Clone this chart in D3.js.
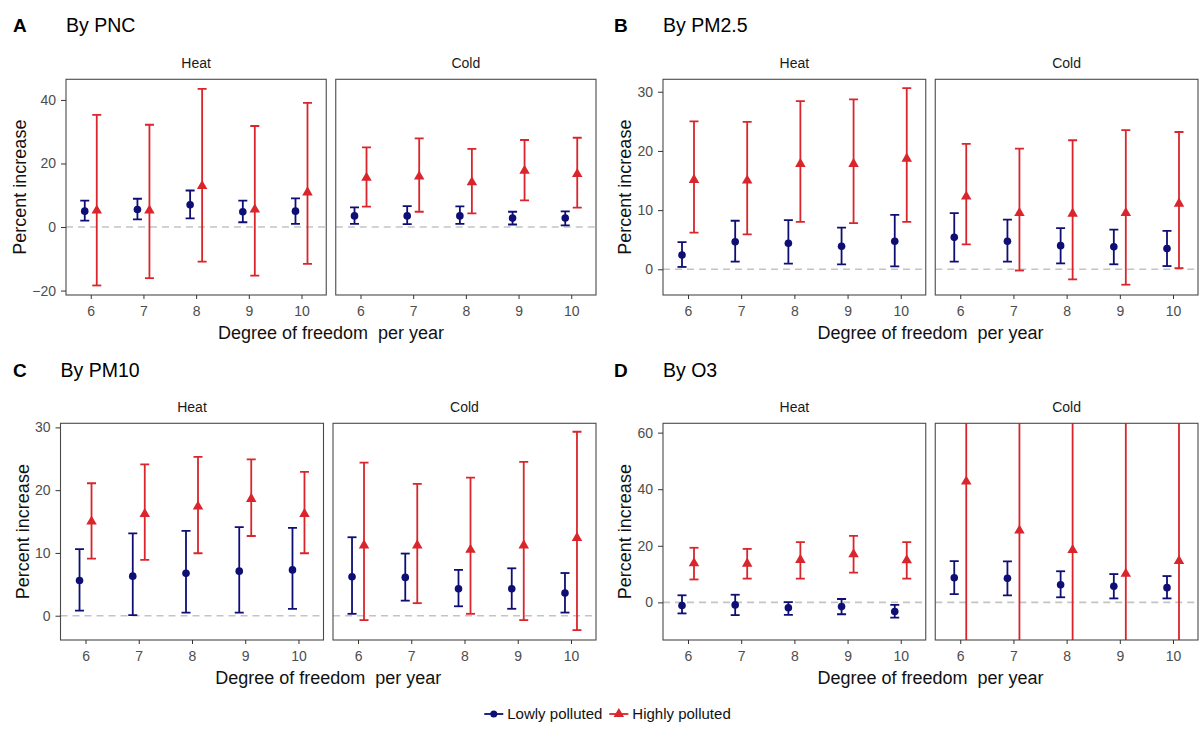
<!DOCTYPE html>
<html>
<head>
<meta charset="utf-8">
<script src="https://cdn.jsdelivr.net/npm/d3@7"></script>
<style>
  body { margin: 0; background: #fff; }
  text { font-family: "Liberation Sans", Arial, sans-serif; }
</style>
</head>
<body>
<svg id="chart" width="1200" height="731"></svg>
<script>
// ---- data: [estimate, lower, upper] per degree of freedom
var dfs = [6, 7, 8, 9, 10];
var facets = ["Heat", "Cold"];

var pncHeatLow  = [[5.0, 2.0, 8.3], [5.5, 2.4, 8.9], [7.0, 2.7, 11.5], [4.8, 1.5, 8.3], [5.0, 1.0, 9.0]];
var pncHeatHigh = [[5.2, -18.4, 35.3], [5.2, -16.1, 32.2], [12.9, -10.9, 43.5], [5.5, -15.3, 31.8], [10.9, -11.6, 39.1]];
var pncColdLow  = [[3.5, 1.0, 6.2], [3.5, 0.9, 6.6], [3.5, 1.0, 6.5], [2.8, 0.8, 4.8], [2.8, 0.5, 4.9]];
var pncColdHigh = [[15.5, 6.4, 25.1], [15.9, 4.8, 27.9], [14.1, 4.3, 24.6], [17.7, 8.4, 27.4], [16.7, 6.1, 28.1]];

var pm25HeatLow  = [[2.4, 0.4, 4.6], [4.65, 1.3, 8.2], [4.4, 0.95, 8.3], [3.9, 0.85, 7.05], [4.75, 0.5, 9.2]];
var pm25HeatHigh = [[15.1, 6.2, 25.0], [15.0, 5.9, 24.9], [17.8, 8.0, 28.4], [17.8, 7.8, 28.7], [18.7, 8.0, 30.6]];
var pm25ColdLow  = [[5.4, 1.3, 9.5], [4.75, 1.3, 8.4], [4.0, 1.0, 6.95], [3.8, 0.85, 6.7], [3.5, 0.55, 6.5]];
var pm25ColdHigh = [[12.3, 4.2, 21.2], [9.5, -0.2, 20.4], [9.4, -1.7, 21.8], [9.5, -2.6, 23.5], [11.1, 0.2, 23.2]];

var pm10HeatLow  = [[5.6, 0.8, 10.6], [6.3, 0.1, 13.1], [6.75, 0.5, 13.5], [7.1, 0.5, 14.1], [7.3, 1.1, 14.0]];
var pm10HeatHigh = [[15.0, 9.1, 21.1], [16.2, 8.9, 24.1], [17.4, 9.95, 25.3], [18.6, 12.7, 24.9], [16.2, 9.95, 22.9]];
var pm10ColdLow  = [[6.2, 0.3, 12.5], [6.1, 2.4, 9.9], [4.3, 1.5, 7.3], [4.3, 1.1, 7.55], [3.6, 0.5, 6.8]];
var pm10ColdHigh = [[11.2, -0.7, 24.4], [11.2, 2.0, 21.0], [10.5, 0.3, 22.0], [11.2, -0.7, 24.5], [12.4, -2.3, 29.3]];

var o3HeatLow  = [[-1.1, -3.9, 2.5], [-0.9, -4.5, 2.7], [-1.9, -4.4, 0.1], [-1.5, -4.2, 1.2], [-3.2, -5.4, -0.9]];
var o3HeatHigh = [[13.8, 8.1, 19.3], [13.7, 8.4, 18.9], [15.0, 8.4, 21.3], [17.0, 10.5, 23.5], [14.9, 8.4, 21.3]];
var o3ColdLow  = [[8.7, 2.9, 14.6], [8.5, 2.5, 14.5], [6.25, 1.8, 11.0], [5.7, 1.4, 10.0], [5.2, 1.4, 9.3]];
// the cold / highly polluted intervals run off the panel both ways
var o3ColdHigh = [[42.7, -40, 130], [25.4, -35, 100], [18.5, -30, 90], [10.1, -30, 80], [14.6, -30, 85]];

var panelLetters = ["A", "B", "C", "D"];
var panelTitles = ["By PNC", "By PM2.5", "By PM10", "By O3"];
var yTicks = [[-20, 0, 20, 40], [0, 10, 20, 30], [0, 10, 20, 30], [0, 20, 40, 60]];
var yDomains = [[-21.4, 46.5], [-4.34, 32.1], [-3.87, 30.65], [-13.3, 63.3]];

var panels = [
  {Heat: {low: pncHeatLow, high: pncHeatHigh}, Cold: {low: pncColdLow, high: pncColdHigh}},
  {Heat: {low: pm25HeatLow, high: pm25HeatHigh}, Cold: {low: pm25ColdLow, high: pm25ColdHigh}},
  {Heat: {low: pm10HeatLow, high: pm10HeatHigh}, Cold: {low: pm10ColdLow, high: pm10ColdHigh}},
  {Heat: {low: o3HeatLow, high: o3HeatHigh}, Cold: {low: o3ColdLow, high: o3ColdHigh}}
];

// ---- layout (pixel boxes of the plotting areas)
var layout = [
  {left: 66, right: 596, top: 79.3, bottom: 295, titleY: 31.7, letterX: 13},
  {left: 663, right: 1198, top: 79.3, bottom: 295, titleY: 31.7, letterX: 614},
  {left: 60.5, right: 596, top: 423.3, bottom: 640, titleY: 377, letterX: 13},
  {left: 663, right: 1198, top: 423.3, bottom: 640, titleY: 377, letterX: 614}
];
var gap = 9.5;

var blue = "#0e0e74";
var red = "#d9252b";
var groups = [
  {key: "low", color: blue, dx: -6, label: "Lowly polluted"},
  {key: "high", color: red, dx: 6, label: "Highly polluted"}
];

var svg = d3.select("#chart");
var triangle = d3.symbol().type(d3.symbolTriangle).size(48);

function styleAxis(g) {
  g.select(".domain").remove();
  g.selectAll(".tick line").attr("stroke", "#333").attr("stroke-width", 1);
  g.selectAll(".tick text").attr("fill", "#4d4d4d").style("font-size", "14px")
    .style("font-family", '"Liberation Sans", Arial, sans-serif');
}

panels.forEach(function(p, i) {
  var L = layout[i];
  var y = d3.scaleLinear().domain(yDomains[i]).range([L.bottom, L.top]);
  var fw = (L.right - L.left - gap) / 2;

  facets.forEach(function(facet, fi) {
    var x0 = L.left + fi * (fw + gap);
    var x = d3.scalePoint().domain(dfs).range([x0, x0 + fw]).padding(0.47);
    var clipId = "clip" + i + fi;
    svg.append("clipPath").attr("id", clipId).append("rect")
      .attr("x", x0).attr("y", L.top).attr("width", fw).attr("height", L.bottom - L.top);

    var g = svg.append("g").attr("clip-path", "url(#" + clipId + ")");

    // reference line at zero
    g.append("line")
      .attr("x1", x0).attr("x2", x0 + fw)
      .attr("y1", y(0)).attr("y2", y(0))
      .attr("stroke", "#c4c4c4").attr("stroke-width", 1.6)
      .attr("stroke-dasharray", "7,5");

    groups.forEach(function(grp) {
      var rows = p[facet][grp.key];
      var eb = g.append("g").attr("stroke", grp.color).attr("stroke-width", 1.8);
      eb.selectAll(null).data(rows).enter().append("line")
        .attr("x1", function(d, j) { return x(dfs[j]) + grp.dx; })
        .attr("x2", function(d, j) { return x(dfs[j]) + grp.dx; })
        .attr("y1", function(d) { return y(d[1]); })
        .attr("y2", function(d) { return y(d[2]); });
      [1, 2].forEach(function(k) {
        eb.selectAll(null).data(rows).enter().append("line")
          .attr("x1", function(d, j) { return x(dfs[j]) + grp.dx - 4.5; })
          .attr("x2", function(d, j) { return x(dfs[j]) + grp.dx + 4.5; })
          .attr("y1", function(d) { return y(d[k]); })
          .attr("y2", function(d) { return y(d[k]); });
      });
    });

    groups.forEach(function(grp) {
      var rows = p[facet][grp.key];
      if (grp.key == "low") {
        g.selectAll(null).data(rows).enter().append("circle")
          .attr("cx", function(d, j) { return x(dfs[j]) + grp.dx; })
          .attr("cy", function(d) { return y(d[0]); })
          .attr("r", 3.8)
          .attr("fill", grp.color);
      } else {
        g.selectAll(null).data(rows).enter().append("path")
          .attr("d", triangle)
          .attr("transform", function(d, j) { return "translate(" + (x(dfs[j]) + grp.dx) + "," + y(d[0]) + ")"; })
          .attr("fill", grp.color);
      }
    });

    // panel border
    svg.append("rect")
      .attr("x", x0).attr("y", L.top).attr("width", fw).attr("height", L.bottom - L.top)
      .attr("fill", "none").attr("stroke", "#4a4a4a").attr("stroke-width", 1.1);

    // x axis
    svg.append("g")
      .attr("transform", "translate(0," + L.bottom + ")")
      .call(d3.axisBottom(x).tickSize(4).tickPadding(7))
      .call(styleAxis);

    // strip label
    svg.append("text")
      .attr("x", x0 + fw / 2).attr("y", L.top - 11.8)
      .attr("text-anchor", "middle")
      .attr("fill", "#1a1a1a").style("font-size", "14px")
      .text(facet);
  });

  // y axis
  var ya = svg.append("g")
    .attr("transform", "translate(" + L.left + ",0)")
    .call(d3.axisLeft(y).tickValues(yTicks[i]).tickSize(5).tickPadding(5))
    .call(styleAxis);
  var bb = ya.node().getBBox();

  svg.append("text")
    .attr("transform", "translate(" + (L.left + bb.x - 6) + "," + ((L.top + L.bottom) / 2) + ") rotate(-90)")
    .attr("text-anchor", "middle")
    .attr("fill", "#111").style("font-size", "18px")
    .text("Percent increase");

  svg.append("text")
    .attr("x", (L.left + L.right) / 2).attr("y", L.bottom + 44)
    .attr("text-anchor", "middle")
    .attr("fill", "#111").style("font-size", "18px").style("white-space", "pre")
    .text("Degree of freedom  per year");

  // panel heading
  svg.append("text")
    .attr("x", L.letterX).attr("y", L.titleY)
    .attr("fill", "#000").style("font-size", "19px").style("font-weight", "bold")
    .text(panelLetters[i]);
  svg.append("text")
    .attr("x", L.left).attr("y", L.titleY)
    .attr("fill", "#000").style("font-size", "19.5px")
    .text(panelTitles[i]);
});

// ---- legend
var legY = 714;
var leg = svg.append("g");
var cursor = 0;
groups.forEach(function(grp, k) {
  var item = leg.append("g").attr("transform", "translate(" + cursor + ",0)");
  item.append("line").attr("x1", 0).attr("x2", 19).attr("y1", legY).attr("y2", legY)
    .attr("stroke", grp.color).attr("stroke-width", 1.8);
  if (grp.key == "low") {
    item.append("circle").attr("cx", 9.5).attr("cy", legY).attr("r", 3.5).attr("fill", grp.color);
  } else {
    item.append("path").attr("d", triangle).attr("transform", "translate(9.5," + legY + ")").attr("fill", grp.color);
  }
  var t = item.append("text").attr("x", 23).attr("y", legY + 5)
    .attr("fill", "#111").style("font-size", "15px").text(grp.label);
  cursor += 23 + t.node().getComputedTextLength() + 7;
});
var lw = leg.node().getBBox();
leg.attr("transform", "translate(" + (607.5 - lw.width / 2) + ",0)");
</script>
</body>
</html>
